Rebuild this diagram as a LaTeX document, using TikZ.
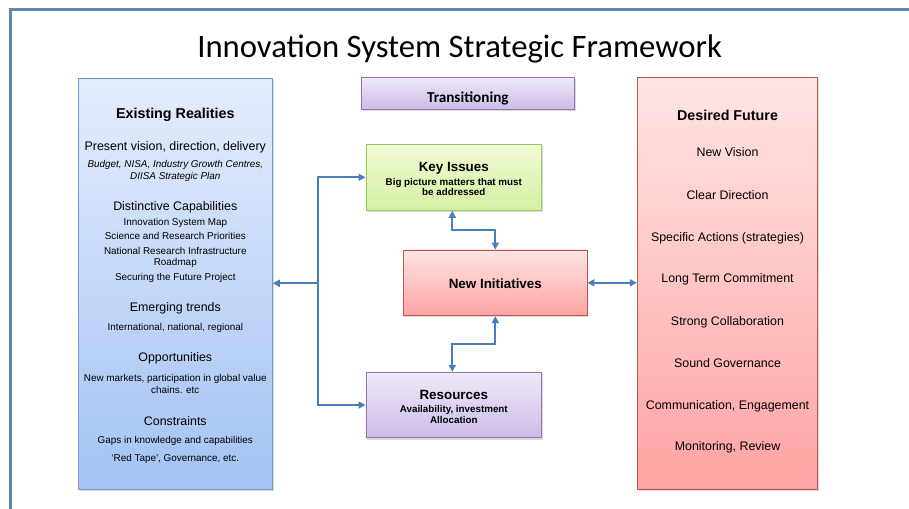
\documentclass[tikz,border=0pt]{standalone}
\usepackage{fontspec}
\setmainfont{Liberation Sans}
\newfontfamily\calib{Carlito}
\usetikzlibrary{arrows.meta,shadows}
\definecolor{framec}{RGB}{92,136,173}
\definecolor{arrowc}{RGB}{74,126,187}
\definecolor{blueT}{RGB}{228,237,252}
\definecolor{blueB}{RGB}{164,194,244}
\definecolor{blueD}{RGB}{118,152,210}
\definecolor{redT}{RGB}{255,229,229}
\definecolor{redB}{RGB}{255,163,163}
\definecolor{redD}{RGB}{190,84,80}
\definecolor{greenT}{RGB}{242,251,214}
\definecolor{greenB}{RGB}{212,240,164}
\definecolor{greenD}{RGB}{155,200,95}
\definecolor{purT}{RGB}{240,233,249}
\definecolor{purB}{RGB}{205,187,232}
\definecolor{purD}{RGB}{150,115,175}
\tikzset{
  box/.style={draw, line width=0.9pt, inner sep=0pt,
    drop shadow={opacity=0.3, shadow xshift=1.2pt, shadow yshift=-1.8pt}},
  bluebox/.style={box, draw=blueD, top color=blueT, bottom color=blueB},
  redbox/.style={box, draw=redD, top color=redT, bottom color=redB},
  greenbox/.style={box, draw=greenD, top color=greenT, bottom color=greenB},
  purbox/.style={box, draw=purD, top color=purT, bottom color=purB},
  txt/.style={inner sep=0pt, align=center, text height=0.72em, text depth=0.21em, yshift=-2.7pt},
  head/.style={txt, font=\bfseries\fontsize{14.3}{16}\selectfont},
  mid/.style={txt, font=\fontsize{12.4}{14}\selectfont},
  small/.style={txt, font=\fontsize{9.9}{11}\selectfont},
  smallit/.style={txt, font=\itshape\fontsize{9.9}{11}\selectfont},
  bhead/.style={txt, font=\bfseries\fontsize{13.4}{15}\selectfont},
  bsmall/.style={txt, font=\bfseries\fontsize{9.8}{11}\selectfont},
  arr/.style={draw=arrowc, line width=2pt, >={Triangle[length=7pt,width=7pt]}},
}
\begin{document}
\begin{tikzpicture}[x=1pt,y=-1pt]
\useasboundingbox (0,0) rectangle (909,508);
% frame
\draw[framec, line width=3.3pt] (10.5,515) -- (10.5,9.8) -- (915,9.8);
% title
\node[anchor=base, inner sep=0pt, font=\calib\fontsize{32.7}{36}\selectfont] (title) at (459.6,57.5) {Innovation System Strategic Framework};
% boxes
\node[bluebox, minimum width=194pt, minimum height=411pt] (left) at (175.3,283.8) {};
\node[redbox, minimum width=180.4pt, minimum height=412pt] (right) at (727.5,283.3) {};
\node[purbox, minimum width=213pt, minimum height=32pt] (trans) at (467.8,93.3) {};
\node[greenbox, minimum width=175.7pt, minimum height=66pt] (key) at (453.8,177.3) {};
\node[redbox, minimum width=183.3pt, minimum height=65.7pt] (ni) at (495.3,282.8) {};
\node[purbox, minimum width=175.7pt, minimum height=65.4pt] (res) at (453.8,405) {};
% transitioning text
\node[anchor=base, inner sep=0pt, font=\calib\bfseries\fontsize{15.2}{17}\selectfont] (transT) at (467.8,102.3) {Transitioning};
% left box text
\node[head] (l1) at (175.3,113.3) {Existing Realities};
\node[mid] (l2) at (175.3,145) {Present vision, direction, delivery};
\node[smallit] (l3) at (175.3,162.7) {Budget, NISA, Industry Growth Centres,};
\node[smallit] (l4) at (175.3,174.3) {DIISA Strategic Plan};
\node[mid] (l5) at (175.3,205.7) {Distinctive Capabilities};
\node[small] (l6) at (175.3,220.7) {Innovation System Map};
\node[small] (l7) at (175.3,234.3) {Science and Research Priorities};
\node[small] (l8) at (175.3,249) {National Research Infrastructure};
\node[small] (l9) at (175.3,260) {Roadmap};
\node[small] (l10) at (175.3,275.7) {Securing the Future Project};
\node[mid] (l11) at (175.3,306.7) {Emerging trends};
\node[small] (l12) at (175.3,325.7) {International, national, regional};
\node[mid] (l13) at (175.3,356.7) {Opportunities};
\node[small] (l14) at (175.3,376) {New markets, participation in global value};
\node[small] (l15) at (175.3,388.3) {chains. etc};
\node[mid] (l16) at (175.3,420) {Constraints};
\node[small] (l17) at (175.3,438.3) {Gaps in knowledge and capabilities};
\node[small] (l18) at (175.3,456) {‘Red Tape’, Governance, etc.};
% right box text
\node[head] (r1) at (727.5,115) {Desired Future};
\node[mid] (r2) at (727.5,151.7) {New Vision};
\node[mid] (r3) at (727.5,194) {Clear Direction};
\node[mid] (r4) at (727.5,236.7) {Specific Actions (strategies)};
\node[mid] (r5) at (727.5,277.7) {Long Term Commitment};
\node[mid] (r6) at (727.5,320) {Strong Collaboration};
\node[mid] (r7) at (727.5,362.7) {Sound Governance};
\node[mid] (r8) at (727.5,404) {Communication, Engagement};
\node[mid] (r9) at (727.5,445.7) {Monitoring, Review};
% centre boxes text
\node[bhead] (k1) at (453.8,166) {Key Issues};
\node[bsmall] (k2) at (453.8,180) {Big picture matters that must};
\node[bsmall] (k3) at (453.8,190.7) {be addressed};
\node[bhead] (n1) at (495.3,283.3) {New Initiatives};
\node[bhead] (s1) at (453.8,394.3) {Resources};
\node[bsmall] (s2) at (453.8,407.3) {Availability, investment};
\node[bsmall] (s3) at (453.8,418) {Allocation};
% connectors
\coordinate (J) at (318.3,283.3);
\draw[arr,->] (J) -- (left.east |- J);
\draw[arr,->] (J) |- (key.west);
\draw[arr,->] (J) |- (res.west);
\draw[arr,<->] ([xshift=-1.5pt]key.south) -- ++(0,19) -| (ni.north);
\draw[arr,<->] (ni.south) -- ++(0,28) -| ([xshift=-1.5pt]res.north);
\draw[arr,<->] (ni.east) -- (right.west |- ni.east);
\end{tikzpicture}
\end{document}
